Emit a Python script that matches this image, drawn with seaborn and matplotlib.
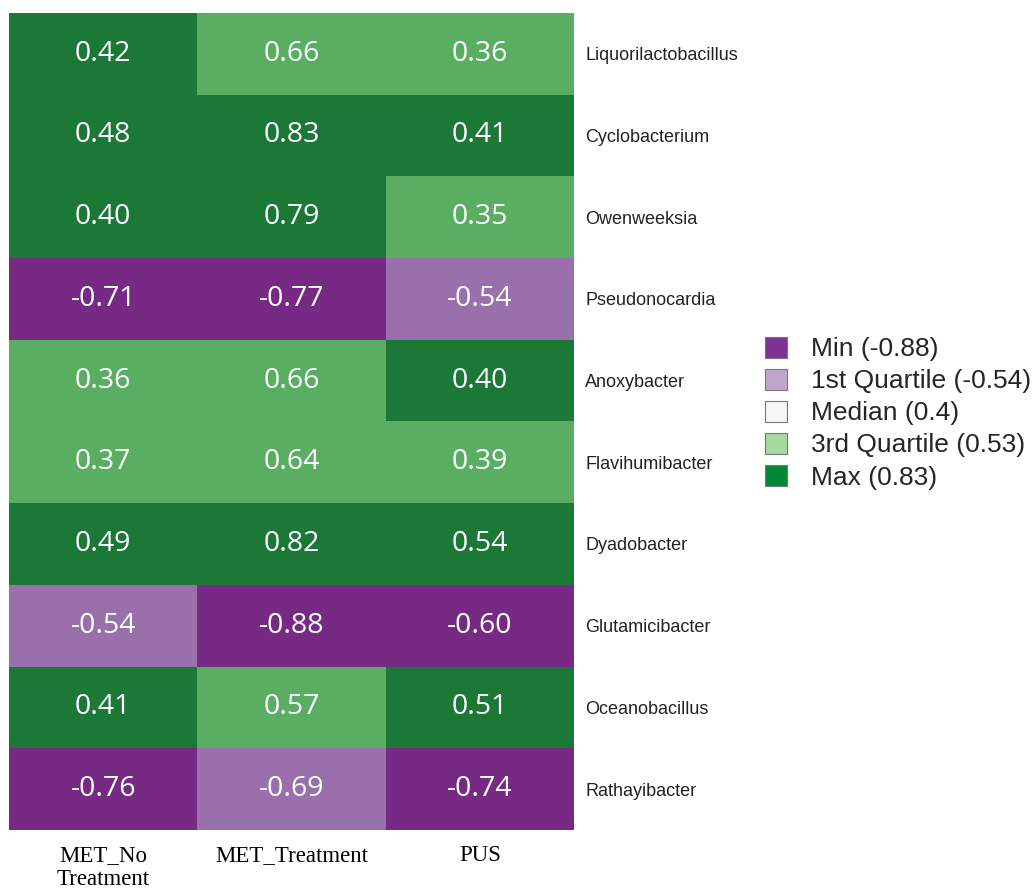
import numpy as np
import pandas as pd
import seaborn as sns
import matplotlib.pyplot as plt
from matplotlib.colors import ListedColormap
from matplotlib.patches import Patch

# Correlation values per genus and group
genera = ["Liquorilactobacillus", "Cyclobacterium", "Owenweeksia", "Pseudonocardia",
          "Anoxybacter", "Flavihumibacter", "Dyadobacter", "Glutamicibacter",
          "Oceanobacillus", "Rathayibacter"]
groups = ["MET_No\nTreatment", "MET_Treatment", "PUS"]

met_no_treatment = [0.42, 0.48, 0.40, -0.71, 0.36, 0.37, 0.49, -0.54, 0.41, -0.76]
met_treatment = [0.66, 0.83, 0.79, -0.77, 0.66, 0.64, 0.82, -0.88, 0.57, -0.69]
pus = [0.36, 0.41, 0.35, -0.54, 0.40, 0.39, 0.54, -0.60, 0.51, -0.74]

# Colour class of each cell: 0 Min, 1 1st Quartile, 2 Median, 3 3rd Quartile, 4 Max
class_met_no_treatment = [4, 4, 4, 0, 3, 3, 4, 1, 4, 0]
class_met_treatment = [3, 4, 4, 0, 3, 3, 4, 0, 3, 1]
class_pus = [3, 4, 3, 1, 4, 3, 4, 0, 4, 0]

legend_labels = ["Min (-0.88)", "1st Quartile (-0.54)", "Median (0.4)",
                 "3rd Quartile (0.53)", "Max (0.83)"]

cell_colors = ["#762a83", "#9970ab", "#f7f7f7", "#5aae61", "#1b7837"]
legend_colors = ["#7b3294", "#c2a5cf", "#f7f7f7", "#a6dba0", "#008837"]

values = pd.DataFrame({g: v for g, v in zip(groups, [met_no_treatment, met_treatment, pus])},
                      index=genera)
classes = pd.DataFrame({g: v for g, v in zip(groups, [class_met_no_treatment,
                                                       class_met_treatment, class_pus])},
                       index=genera)

sns.set_theme(style="white")
plt.rcParams["font.family"] = ["DejaVu Sans"]

fig = plt.figure(figsize=(10.32, 8.94), dpi=100)
ax = fig.add_axes([0.0087, 0.0716, 0.5475, 0.914])

sns.heatmap(classes, ax=ax, cmap=ListedColormap(cell_colors), vmin=-0.5, vmax=4.5,
            annot=values.values, fmt=".2f", cbar=False,
            annot_kws={"color": "white", "fontsize": 20.5, "fontfamily": "Open Sans"})

# Genus names on the right side
ax.yaxis.tick_right()
ax.set_yticks(np.arange(len(genera)) + 0.5)
ax.set_yticklabels(genera, rotation=0, fontsize=13,
                   fontfamily=["Liberation Sans", "DejaVu Sans"], color="#222222")
ax.tick_params(axis="y", length=0, pad=8)

ax.set_xticks(np.arange(len(groups)) + 0.5)
ax.set_xticklabels(groups, rotation=0, fontsize=16.5, fontfamily="Liberation Serif",
                   color="black", va="top", linespacing=1.2)
ax.tick_params(axis="x", length=0, pad=11)
ax.set_xlabel("")
ax.set_ylabel("")

handles = [Patch(facecolor=c, edgecolor="#777777", linewidth=0.8) for c in legend_colors]
fig.legend(handles, legend_labels, loc="upper left", bbox_to_anchor=(0.718, 0.65),
           frameon=False, handlelength=0.85, handleheight=0.85,
           handletextpad=0.9, labelspacing=0.28,
           prop={"family": "Liberation Sans", "size": 19})

fig.savefig("out.png", dpi=100)
